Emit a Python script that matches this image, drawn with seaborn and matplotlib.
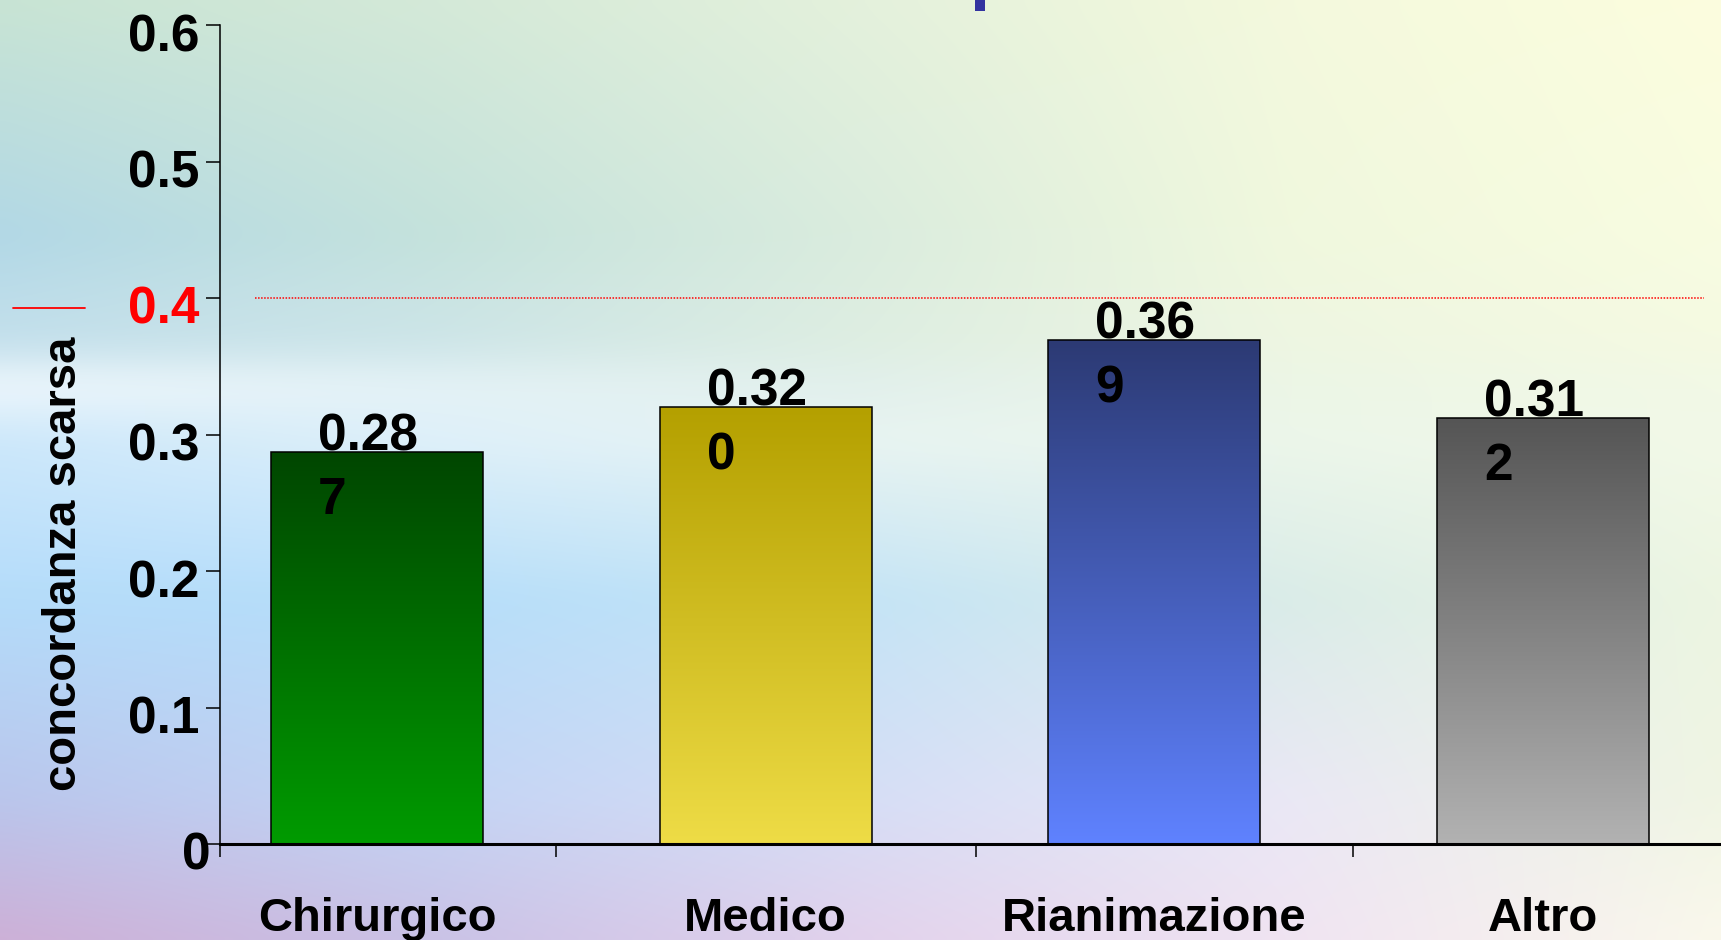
import numpy as np
import pandas as pd
import matplotlib
matplotlib.use("Agg")
import matplotlib.pyplot as plt
import seaborn as sns
from matplotlib.lines import Line2D
from matplotlib.patches import Rectangle
from matplotlib.colors import LinearSegmentedColormap
from matplotlib.transforms import ScaledTranslation

# ---- data -------------------------------------------------------------
categories = ["Chirurgico", "Medico", "Rianimazione", "Altro"]
kappa = [0.287, 0.320, 0.369, 0.312]
threshold = 0.4
y_ticks = [0, 0.1, 0.2, 0.3, 0.4, 0.5, 0.6]
y_tick_labels = ["0", "0.1", "0.2", "0.3", "0.4", "0.5", "0.6"]
axis_label = "concordanza scarsa"

# ---- styling ----------------------------------------------------------
bar_top_colors = ["#004600", "#b4a000", "#2c3a74", "#555555"]
bar_bottom_colors = ["#009b00", "#eedc46", "#5f82ff", "#b2b2b2"]

W, H, DPI = 1721, 940, 100

sns.set_theme(style="white")
plt.rcParams["font.family"] = ["Liberation Sans", "DejaVu Sans"]
plt.rcParams["font.weight"] = "bold"

fig = plt.figure(figsize=(W / DPI, H / DPI), dpi=DPI)

# ---- pastel slide background ------------------------------------------
ctrl_x = [0, 430, 860, 1290, 1721]
ctrl_y = [0, 235, 340, 385, 440, 600, 800, 940]
ctrl_rgb = np.array([
    [(200, 228, 212), (212, 233, 216), (228, 241, 220), (244, 249, 221), (252, 253, 222)],
    [(178, 216, 230), (196, 226, 220), (218, 236, 222), (240, 248, 222), (248, 252, 225)],
    [(196, 224, 236), (205, 229, 232), (222, 238, 226), (238, 246, 226), (245, 250, 226)],
    [(236, 246, 252), (228, 242, 246), (226, 240, 236), (236, 246, 230), (242, 249, 230)],
    [(205, 232, 250), (222, 240, 250), (232, 244, 242), (236, 246, 234), (242, 249, 232)],
    [(180, 220, 250), (182, 222, 250), (196, 228, 246), (218, 236, 232), (236, 245, 226)],
    [(186, 198, 236), (196, 212, 244), (214, 222, 246), (234, 232, 245), (240, 245, 228)],
    [(205, 176, 215), (202, 194, 230), (226, 210, 236), (240, 228, 242), (250, 248, 236)],
], dtype=float) / 255.0

gw, gh = W // 4, H // 4
gx = np.linspace(0, W, gw)
gy = np.linspace(0, H, gh)
bg = np.empty((gh, gw, 3))
for c in range(3):
    rows = np.array([np.interp(gx, ctrl_x, ctrl_rgb[j, :, c]) for j in range(len(ctrl_y))])
    bg[:, :, c] = np.array([np.interp(gy, ctrl_y, rows[:, i]) for i in range(gw)]).T
# soften the creases of the piecewise blend
k = np.ones(9) / 9.0
for c in range(3):
    pad = np.pad(bg[:, :, c], 4, mode="edge")
    pad = np.apply_along_axis(lambda r: np.convolve(r, k, mode="same"), 1, pad)
    pad = np.apply_along_axis(lambda r: np.convolve(r, k, mode="same"), 0, pad)
    bg[:, :, c] = pad[4:-4, 4:-4]

bg_ax = fig.add_axes([0, 0, 1, 1], zorder=0)
bg_ax.imshow(bg, extent=[0, 1, 0, 1], aspect="auto", interpolation="bilinear")
bg_ax.set_axis_off()

# ---- main chart -------------------------------------------------------
ax = fig.add_axes([220 / W, (H - 844) / H, (W - 220) / W, (844 - 25) / H], zorder=1)
ax.patch.set_alpha(0)

df = pd.DataFrame({"reparto": categories, "kappa": kappa})
sns.barplot(data=df, x="reparto", y="kappa", hue="reparto",
            palette=bar_bottom_colors, width=0.545, edgecolor="black",
            linewidth=1.1, legend=False, ax=ax)

# vertical gradient fill clipped to each bar
grad = np.linspace(0, 1, 256).reshape(-1, 1)
for patch, c_top, c_bot in zip(ax.patches, bar_top_colors, bar_bottom_colors):
    x0, y0 = patch.get_x(), patch.get_y()
    w, h = patch.get_width(), patch.get_height()
    cmap = LinearSegmentedColormap.from_list("bar", [c_bot, c_top])
    ax.imshow(grad, cmap=cmap, origin="lower", aspect="auto",
              extent=[x0, x0 + w, y0, y0 + h], zorder=2, interpolation="bicubic")
    patch.set_facecolor("none")
    patch.set_zorder(3)

xlo, xhi = -0.404, 3.458
ax.set_xlim(xlo, xhi)
ax.set_ylim(0, 0.6)

# threshold line
ax.axhline(threshold, xmin=0.023, xmax=0.989, color="red", lw=1.1,
           ls=(0, (1, 1)), zorder=1.5)

# value labels, split over two lines
for i, v in enumerate(kappa):
    s = f"{v:.3f}"
    ax.annotate(s[:-1], xy=(i, v), xytext=(-59, 40), textcoords="offset pixels",
                ha="left", va="top", fontsize=37, fontweight="bold",
                color="black", zorder=4)
    ax.annotate(s[-1], xy=(i, v), xytext=(-59, 40 - 64), textcoords="offset pixels",
                ha="left", va="top", fontsize=37, fontweight="bold",
                color="black", zorder=4)

# spines
for side in ("top", "right"):
    ax.spines[side].set_visible(False)
ax.spines["left"].set_color("black")
ax.spines["left"].set_linewidth(1.1)
ax.spines["bottom"].set_color("black")
ax.spines["bottom"].set_linewidth(2.2)
ax.spines["bottom"].set_zorder(5)

# y axis
ax.set_yticks(y_ticks)
ax.set_yticklabels(y_tick_labels)
ax.tick_params(axis="y", left=True, direction="out", length=10, width=1.1,
               pad=5, labelsize=37, color="black", labelcolor="black")
shift = ScaledTranslation(0, -7 / DPI, fig.dpi_scale_trans)
zero_shift = ScaledTranslation(11 / DPI, 0, fig.dpi_scale_trans)
for lab in ax.get_yticklabels():
    lab.set_fontweight("bold")
    t = lab.get_transform() + shift
    if lab.get_text() == "0":
        t = t + zero_shift
    lab.set_transform(t)
    if lab.get_text() == f"{threshold:g}":
        lab.set_color("red")

ax.set_ylabel(axis_label, fontsize=34, fontweight="bold", color="black")
ax.yaxis.label.set_va("center")
ax.yaxis.set_label_coords(-0.104, 0.342)

# x axis
ax.set_xlabel("")
ax.set_xticks(range(len(categories)))
ax.set_xticklabels(categories)
ax.tick_params(axis="x", which="major", bottom=True, length=0, pad=38,
               labelsize=34, labelcolor="black")
for lab in ax.get_xticklabels():
    lab.set_fontweight("bold")
ax.set_xticks([xlo, 0.46, 1.54, 2.51], minor=True)
ax.tick_params(axis="x", which="minor", bottom=True, direction="out",
               length=9, width=1.1, color="black")
ax.grid(False)

# short red key stroke beside the axis label
fig.add_artist(Line2D([13 / W, 85 / W], [1 - 308 / H, 1 - 308 / H],
                      transform=fig.transFigure, color="red", lw=1.3))
# edge of the slide title peeking in at the top
fig.add_artist(Rectangle((975 / W, 1 - 11 / H), 10 / W, 11 / H,
                         transform=fig.transFigure, color="#3333a0", lw=0))

fig.savefig("out.png", dpi=DPI)
